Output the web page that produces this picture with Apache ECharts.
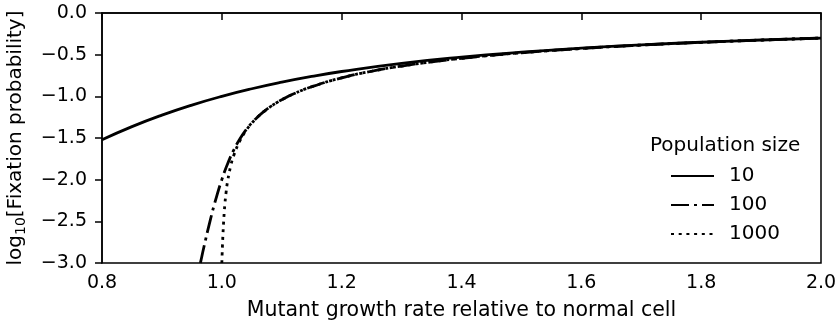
<!DOCTYPE html>
<html><head><meta charset="utf-8">
<script src="https://cdn.jsdelivr.net/npm/echarts@6/dist/echarts.min.js"></script>
<style>html,body{margin:0;padding:0;background:#fff}#c{width:840px;height:328px}</style>
</head><body><div id="c"></div>
<script>
// Series names / legend
const seriesNames = ['10', '100', '1000'];
// Population size 10
const r10 = [0.8, 0.85, 0.9, 0.95, 1.0, 1.05, 1.1, 1.15, 1.2, 1.3, 1.4, 1.5, 1.6, 1.7, 1.8, 1.9, 2.0];
const y10 = [-1.522, -1.364, -1.226, -1.105, -1.0, -0.909, -0.830, -0.761, -0.702, -0.604, -0.529, -0.470, -0.422, -0.383, -0.351, -0.324, -0.301];
// Population size 100
const r100 = [0.9643, 0.965, 0.97, 0.98, 0.99, 1.0, 1.01, 1.02, 1.03, 1.04, 1.05, 1.06, 1.07, 1.08, 1.09, 1.1, 1.12, 1.15, 1.2, 1.25, 1.3, 1.35, 1.4, 1.45, 1.5, 1.6, 1.7, 1.8, 1.9, 2.0];
const y100 = [-3.0, -2.975, -2.811, -2.506, -2.234, -2.0, -1.804, -1.643, -1.513, -1.406, -1.319, -1.246, -1.184, -1.130, -1.083, -1.041, -0.970, -0.885, -0.778, -0.699, -0.637, -0.586, -0.544, -0.508, -0.477, -0.426, -0.385, -0.352, -0.325, -0.301];
// Population size 1000
const r1000 = [1.0, 1.001, 1.002, 1.003, 1.004, 1.005, 1.007, 1.01, 1.015, 1.02, 1.03, 1.04, 1.05, 1.06, 1.07, 1.08, 1.09, 1.1, 1.12, 1.15, 1.2, 1.25, 1.3, 1.35, 1.4, 1.45, 1.5, 1.6, 1.7, 1.8, 1.9, 2.0];
const y1000 = [-3.0, -2.801, -2.637, -2.502, -2.392, -2.300, -2.158, -2.004, -1.830, -1.708, -1.536, -1.415, -1.322, -1.247, -1.184, -1.130, -1.083, -1.041, -0.970, -0.885, -0.778, -0.699, -0.637, -0.586, -0.544, -0.508, -0.477, -0.426, -0.385, -0.352, -0.325, -0.301];
// Axis ticks
const xTicks = [0.8, 1.0, 1.2, 1.4, 1.6, 1.8, 2.0];
const yTicks = [-3.0, -2.5, -2.0, -1.5, -1.0, -0.5, 0.0];

const FONT = 'DejaVu Sans';
const zip = (a, b) => a.map((v, i) => [v, b[i]]);
const fmt = v => (v < 0 ? '\u2212' : '') + Math.abs(v).toFixed(1);

const chart = echarts.init(document.getElementById('c'), null, {renderer: 'canvas'});
const mkLine = (name, data, type) => ({
  name, type: 'line', data, smooth: true, symbol: 'none', clip: true,
  lineStyle: {color: '#000', width: 2.8, type: type, cap: 'butt'},
  itemStyle: {color: '#000'}
});
chart.setOption({
  animation: false,
  grid: {left: 102, right: 19, top: 13, bottom: 65, show: true, borderColor: '#000', borderWidth: 1.5,
         containLabel: false, outerBoundsMode: 'none'},
  xAxis: {
    type: 'value', min: xTicks[0], max: xTicks[xTicks.length - 1], interval: 0.2,
    name: 'Mutant growth rate relative to normal cell', nameLocation: 'middle', nameGap: 37,
    nameTextStyle: {fontFamily: FONT, fontSize: 20.5, color: '#000'},
    axisLine: {lineStyle: {color: '#000', width: 1.5}},
    axisTick: {length: 7, lineStyle: {color: '#000', width: 1.5}},
    axisLabel: {fontFamily: FONT, fontSize: 19, color: '#000', margin: 11, formatter: v => v.toFixed(1)},
    splitLine: {show: false}
  },
  yAxis: {
    type: 'value', min: yTicks[0], max: yTicks[yTicks.length - 1], interval: 0.5,
    name: '{a|log}{s|10}{a|[Fixation probability]}', nameLocation: 'middle', nameGap: 74, nameRotate: 90,
    nameTextStyle: {fontFamily: FONT, fontSize: 20, color: '#000',
      rich: {a: {fontFamily: FONT, fontSize: 20, color: '#000'}, s: {fontFamily: FONT, fontSize: 14, color: '#000', verticalAlign: 'bottom', padding: [10, 0, 0, 0]}}},
    axisLine: {show: true, lineStyle: {color: '#000', width: 1.5}},
    axisTick: {show: true, length: 7, lineStyle: {color: '#000', width: 1.5}},
    axisLabel: {fontFamily: FONT, fontSize: 19, color: '#000', margin: 15, formatter: fmt},
    splitLine: {show: false}
  },
  legend: {
    data: seriesNames, orient: 'vertical', left: 670, top: 166, padding: 0, itemWidth: 43, itemHeight: 14, itemGap: 9,
    itemStyle: {color: 'rgba(0,0,0,0)', borderWidth: 0, opacity: 0},
    textStyle: {fontFamily: FONT, fontSize: 20, color: '#000', padding: [0, 0, 0, 10]}
  },
  graphic: [{type: 'text', left: 650, top: 136, style: {text: 'Population size', fontFamily: FONT, fontSize: 20, fill: '#000'}}],
  series: [
    mkLine(seriesNames[0], zip(r10, y10), 'solid'),
    mkLine(seriesNames[1], zip(r100, y100), [18, 5, 3, 5]),
    mkLine(seriesNames[2], zip(r1000, y1000), [3, 4.7])
  ]
});
</script></body></html>
